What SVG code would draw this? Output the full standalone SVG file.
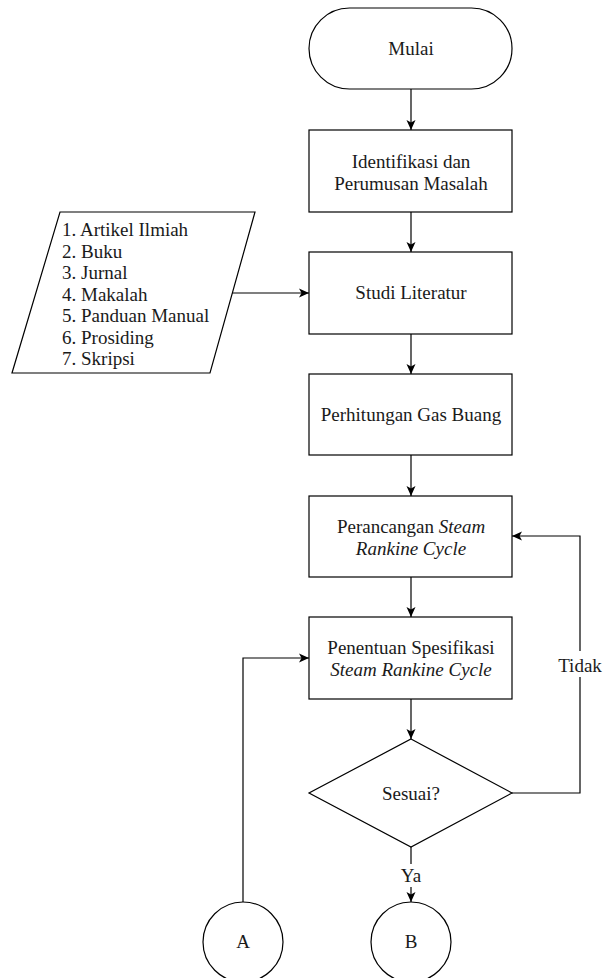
<svg xmlns="http://www.w3.org/2000/svg" width="603" height="978" viewBox="0 0 603 978">
  <defs>
    <style>
      .shape { fill: #ffffff; stroke: #000000; stroke-width: 1.2; }
      .edge { fill: none; stroke: #000000; stroke-width: 1.2; }
      .lbl { fill: #ffffff; stroke: none; }
      .t { font-family: 'Liberation Serif', 'Times New Roman', serif; font-size: 19px; fill: #1a1a1a; }
      .c { text-anchor: middle; }
      .i { font-style: italic; }
    </style>
    <marker id="arr" markerUnits="userSpaceOnUse" markerWidth="12" markerHeight="10" refX="10" refY="5" orient="auto">
      <path d="M0,0.5 L10,5 L0,9.5 L2.5,5 z" fill="#000000"/>
    </marker>
  </defs>

  <g id="connectors">
    <line class="edge" x1="411" y1="89" x2="411" y2="130" marker-end="url(#arr)"/>
    <line class="edge" x1="411" y1="212" x2="411" y2="252" marker-end="url(#arr)"/>
    <line class="edge" x1="231" y1="293" x2="309" y2="293" marker-end="url(#arr)"/>
    <line class="edge" x1="411" y1="334" x2="411" y2="374" marker-end="url(#arr)"/>
    <line class="edge" x1="411" y1="455" x2="411" y2="496" marker-end="url(#arr)"/>
    <line class="edge" x1="411" y1="577" x2="411" y2="617" marker-end="url(#arr)"/>
    <line class="edge" x1="411" y1="699" x2="411" y2="739" marker-end="url(#arr)"/>
    <polyline class="edge" points="512,793 580,793 580,536 512,536" marker-end="url(#arr)"/>
    <polyline class="edge" points="243,902 243,658 309,658" marker-end="url(#arr)"/>
    <line class="edge" x1="411" y1="847" x2="411" y2="902" marker-end="url(#arr)"/>
    <rect class="lbl" x="558" y="651" width="45" height="26"/>
    <rect class="lbl" x="399" y="864" width="24" height="23"/>
    <text class="t c" x="580" y="672">Tidak</text>
    <text class="t c" x="411" y="882">Ya</text>
  </g>

  <g id="mulai">
    <rect class="shape" x="309" y="8" width="203" height="81" rx="40.5" ry="40.5"/>
    <text class="t c" x="411" y="55">Mulai</text>
  </g>

  <g id="identifikasi">
    <rect class="shape" x="309" y="130" width="203" height="82"/>
    <text class="t c" x="411" y="168">Identifikasi dan</text>
    <text class="t c" x="411" y="190">Perumusan Masalah</text>
  </g>

  <g id="sumber">
    <polygon class="shape" points="60,212 255,212 210,373 12,373"/>
    <text class="t" x="62" y="236">1. Artikel Ilmiah</text>
    <text class="t" x="62" y="257.5">2. Buku</text>
    <text class="t" x="62" y="279">3. Jurnal</text>
    <text class="t" x="62" y="300.5">4. Makalah</text>
    <text class="t" x="62" y="322">5. Panduan Manual</text>
    <text class="t" x="62" y="343.5">6. Prosiding</text>
    <text class="t" x="62" y="365">7. Skripsi</text>
  </g>

  <g id="studi">
    <rect class="shape" x="309" y="252" width="203" height="82"/>
    <text class="t c" x="411" y="299">Studi Literatur</text>
  </g>

  <g id="perhitungan">
    <rect class="shape" x="309" y="374" width="203" height="81"/>
    <text class="t c" x="411" y="421">Perhitungan Gas Buang</text>
  </g>

  <g id="perancangan">
    <rect class="shape" x="309" y="496" width="203" height="81"/>
    <text class="t c" x="411" y="533">Perancangan <tspan class="i">Steam</tspan></text>
    <text class="t c i" x="411" y="555">Rankine Cycle</text>
  </g>

  <g id="penentuan">
    <rect class="shape" x="309" y="617" width="203" height="82"/>
    <text class="t c" x="411" y="654">Penentuan Spesifikasi</text>
    <text class="t c i" x="411" y="676">Steam Rankine Cycle</text>
  </g>

  <g id="sesuai">
    <polygon class="shape" points="411,739 512,793 411,847 309,793"/>
    <text class="t c" x="411" y="800">Sesuai?</text>
  </g>

  <g id="konektor-a">
    <circle class="shape" cx="243" cy="942" r="40"/>
    <text class="t c" x="243" y="948">A</text>
  </g>

  <g id="konektor-b">
    <circle class="shape" cx="411" cy="942" r="40"/>
    <text class="t c" x="411" y="948">B</text>
  </g>
</svg>
